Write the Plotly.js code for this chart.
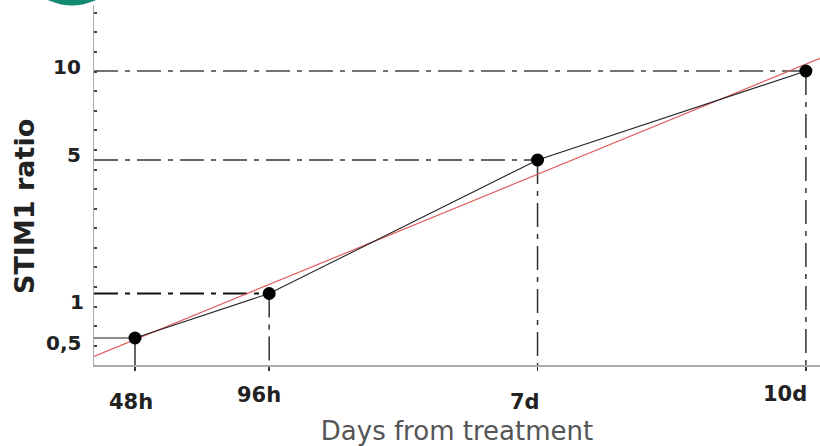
<!DOCTYPE html>
<html>
<head>
<meta charset="utf-8">
<script src="https://cdn.plot.ly/plotly-3.0.1.min.js"></script>
<style>html,body{margin:0;padding:0;background:#fff;}#chart{width:820px;height:446px;}</style>
</head>
<body>
<div id="chart"></div>
<script>
// ---- data ----
const timeLabels = ['48h', '96h', '7d', '10d'];
const timeGrid = [0, 2, 6, 10];          // position of each time point along the drawn x axis
const ratioLabels = ['0,5', '1', '5', '10'];
const ratioValues = [0.5, 1, 5, 10];
const ratioGrid = [0, 1, 4, 6];          // position of each ratio level along the drawn y axis

// ---- styles ----
const xRange = [-0.611, 10.21];
const yRange = [-0.607, 7.483];
const dd = '24px,7px,5px,7px';
const hLineStyle = [
  {dash: 'solid', color: '#666', width: 1.3},
  {dash: dd, color: '#111', width: 2},
  {dash: dd, color: '#333', width: 1.6},
  {dash: dd, color: '#444', width: 1.6}
];
const vLineStyle = [
  {dash: 'solid', color: '#333', width: 1.5},
  {dash: dd, color: '#333', width: 1.5},
  {dash: dd, color: '#333', width: 1.5},
  {dash: dd, color: '#333', width: 1.5}
];
const xLabelShift = [[-4, -37], [-10, -30], [-13, -37], [-21, -29]];
const yLabelShift = [[-11, -5], [-8, -9], [-11, 5], [-11, 4]];

// least-squares trend line through the plotted points
const n = timeGrid.length;
const mx = timeGrid.reduce((a, b) => a + b, 0) / n;
const my = ratioGrid.reduce((a, b) => a + b, 0) / n;
let sxy = 0, sxx = 0;
for (let i = 0; i < n; i++) { sxy += (timeGrid[i] - mx) * (ratioGrid[i] - my); sxx += (timeGrid[i] - mx) ** 2; }
const slope = sxy / sxx, icpt = my - slope * mx;

const traces = [];
for (let i = 0; i < n; i++) {
  traces.push({x: [xRange[0], timeGrid[i]], y: [ratioGrid[i], ratioGrid[i]], mode: 'lines',
    line: hLineStyle[i], hoverinfo: 'skip', showlegend: false, cliponaxis: false});
  traces.push({x: [timeGrid[i], timeGrid[i]], y: [ratioGrid[i], yRange[0]], mode: 'lines',
    line: vLineStyle[i], hoverinfo: 'skip', showlegend: false, cliponaxis: false});
}
traces.push({x: xRange, y: xRange.map(v => icpt + slope * v), mode: 'lines',
  line: {color: '#e05a5a', width: 1.2}, showlegend: false, name: 'trend'});
traces.push({x: timeGrid, y: ratioGrid, mode: 'lines+markers', text: ratioValues.map(String),
  line: {color: '#222', width: 1.1}, marker: {color: '#000', size: 13}, showlegend: false, name: 'STIM1 ratio'});

const annotations = [];
timeLabels.forEach((t, i) => annotations.push({
  x: timeGrid[i], y: 0, xref: 'x', yref: 'paper', text: t, showarrow: false,
  xanchor: 'center', yanchor: 'middle', xshift: xLabelShift[i][0], yshift: xLabelShift[i][1],
  font: {family: 'DejaVu Sans', size: 21, color: '#222', weight: 'bold'}
}));
ratioLabels.forEach((t, i) => annotations.push({
  x: 0, y: ratioGrid[i], xref: 'paper', yref: 'y', text: t, showarrow: false,
  xanchor: 'right', yanchor: 'middle', xshift: yLabelShift[i][0], yshift: yLabelShift[i][1],
  font: {family: 'DejaVu Sans', size: 20, color: '#222', weight: 'bold'}
}));
annotations.push({
  x: (24 - 94) / 726, y: (365 - 207) / 360, xref: 'paper', yref: 'paper', text: 'STIM1 ratio',
  textangle: -90, showarrow: false, xanchor: 'center', yanchor: 'middle',
  font: {family: 'DejaVu Sans', size: 27, color: '#222', weight: 'bold'}
});

const layout = {
  width: 820, height: 446,
  margin: {l: 94, r: 0, t: 5, b: 81},
  paper_bgcolor: '#fff', plot_bgcolor: '#fff',
  xaxis: {range: xRange, showgrid: false, zeroline: false, showline: true, linecolor: '#aaa', linewidth: 1.5,
    tickmode: 'array', tickvals: timeGrid, ticks: 'outside', ticklen: 4, tickcolor: '#333', tickwidth: 1.5,
    showticklabels: false, fixedrange: true,
    title: {text: 'Days from treatment', standoff: 52, font: {family: 'DejaVu Sans', size: 26, color: '#555'}}},
  yaxis: {range: yRange, showgrid: false, zeroline: false, showline: true, linecolor: '#aaa', linewidth: 1.5,
    tickmode: 'linear', tick0: 1.146, dtick: 0.44, ticks: 'inside', ticklen: 3, tickwidth: 2, tickcolor: '#444',
    showticklabels: false, fixedrange: true},
  shapes: [{type: 'circle', xref: 'paper', yref: 'paper', x0: (17 - 94) / 726, x1: (127 - 94) / 726,
    y0: (365 - 5.5) / 360, y1: (365 + 104.5) / 360, fillcolor: '#138a74', line: {width: 0}, layer: 'above'}],
  annotations: annotations
};
Plotly.newPlot('chart', traces, layout, {displayModeBar: false, staticPlot: true});
</script>
</body>
</html>
